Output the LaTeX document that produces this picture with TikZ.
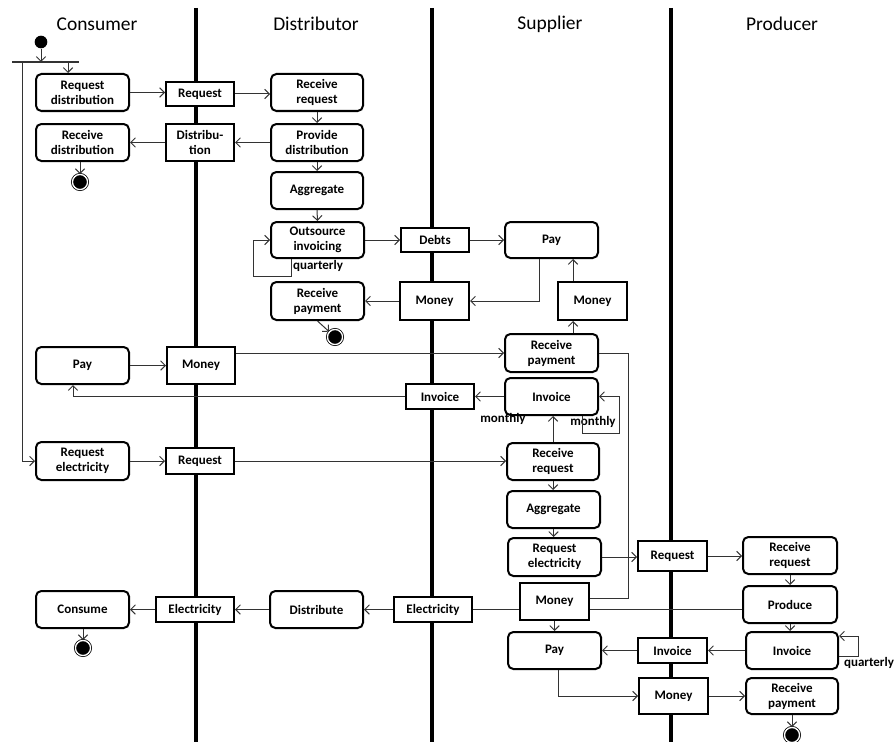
\documentclass[tikz,border=0pt]{standalone}
\usepackage{fontspec}
\setmainfont{Carlito}
\usetikzlibrary{arrows.meta,calc}

\tikzset{
  txt/.style={font=\bfseries\fontsize{9.75}{11.25}\selectfont},
  act/.style={txt, draw, line width=1.5pt, rounded corners=4pt, fill=white, align=center, inner sep=0pt},
  obj/.style={txt, draw, line width=1.5pt, fill=white, align=center, inner sep=0pt},
  conn/.style={line width=0.75pt, draw=black!80},
  arr/.style={conn, -{Straight Barb[length=3.5pt,width=7pt,line width=0.75pt]}},
  lane/.style={line width=3pt, draw=black},
  lbl/.style={txt, inner sep=0pt},
  head/.style={font=\fontsize{14.6}{17}\selectfont, inner sep=0pt},
  finalnode/.style={circle, fill=black, draw=black, line width=0.6pt, double=white, double distance=1pt, minimum size=11.3pt, inner sep=0pt},
  initnode/.style={circle, fill=black, minimum size=9.5pt, inner sep=0pt},
}
\newcommand\mkact[6]{\node[act,minimum width={(#4-#2)*0.75pt},minimum height={(#5-#3)*0.75pt}] (#1) at ({(#2+#4)/2},{(#3+#5)/2}) {#6};}
\newcommand\mkobj[6]{\node[obj,minimum width={(#4-#2)*0.75pt},minimum height={(#5-#3)*0.75pt}] (#1) at ({(#2+#4)/2},{(#3+#5)/2}) {#6};}

\begin{document}
\begin{tikzpicture}[x=0.75pt,y=-0.75pt]
\useasboundingbox (0,0) rectangle (896,742);

% swimlane dividers
\coordinate (l1t) at (196,8); \coordinate (l1b) at (196,742);
\coordinate (l2t) at (432,8); \coordinate (l2b) at (432,742);
\coordinate (l3t) at (671,8); \coordinate (l3b) at (671,742);
\draw[lane] (l1t) -- (l1b);
\draw[lane] (l2t) -- (l2b);
\draw[lane] (l3t) -- (l3b);

% headers
\node[head] (hC) at (97,24) {Consumer};
\node[head] (hD) at (316,24) {Distributor};
\node[head] (hS) at (550,24) {Supplier};
\node[head] (hP) at (782,24) {Producer};

% activities
\mkact{cRD}{36}{74}{129}{111}{Request\\distribution}
\mkact{cRecD}{36}{124}{129}{161}{Receive\\distribution}
\mkact{dRR}{271}{74}{363}{111}{Receive\\request}
\mkact{dPD}{271}{124}{363}{161}{Provide\\distribution}
\mkact{dAgg}{271}{172}{363}{209}{Aggregate}
\mkact{dOI}{271}{222}{364}{258}{Outsource\\invoicing}
\mkact{dRP}{271}{282}{364}{320}{Receive\\payment}
\mkact{sPay}{505}{222}{598}{258}{Pay}
\mkact{cPay}{36}{347}{129}{384}{Pay}
\mkact{sRP}{505}{334}{598}{372}{Receive\\payment}
\mkact{sInv}{505}{378}{598}{415}{Invoice}
\mkact{cRE}{36}{442}{129}{480}{Request\\electricity}
\mkact{sRR}{507}{443}{599}{480}{Receive\\request}
\mkact{sAgg}{507}{491}{600}{528}{Aggregate}
\mkact{sRE}{508}{538}{601}{576}{Request\\electricity}
\mkact{pRR}{743}{537}{837}{574}{Receive\\request}
\mkact{pProd}{743}{586}{837}{623}{Produce}
\mkact{pInv}{746}{632}{838}{669}{Invoice}
\mkact{pRP}{746}{678}{838}{714}{Receive\\payment}
\mkact{cCons}{36}{591}{129}{628}{Consume}
\mkact{dDist}{270}{591}{363}{628}{Distribute}
\mkact{sPay2}{508}{632}{601}{669}{Pay}

% objects
\mkobj{oReq1}{166}{82}{234}{106}{Request}
\mkobj{oDistr}{166}{124}{234}{161}{Distribu-\\tion}
\mkobj{oDebts}{401}{228}{469}{252}{Debts}
\mkobj{oMon1}{400}{282}{469}{320}{Money}
\mkobj{oMon2}{558}{282}{627}{320}{Money}
\mkobj{oMon3}{167}{347}{235}{384}{Money}
\mkobj{oInv1}{406}{384}{474}{409}{Invoice}
\mkobj{oReq2}{166}{448}{234}{474}{Request}
\mkobj{oReq3}{638}{541}{707}{571}{Request}
\mkobj{oMon4}{520}{583}{589}{620}{Money}
\mkobj{oEl1}{156}{597}{234}{622}{Electricity}
\mkobj{oEl2}{394}{597}{472}{622}{Electricity}
\mkobj{oInv2}{638}{638}{707}{663}{Invoice}
\mkobj{oMon5}{639}{678}{708}{714}{Money}

% initial, fork, finals
\node[initnode] (init) at (41,42) {};
\coordinate (barL) at (12,62);
\coordinate (barR) at (79,62);
\draw[line width=1pt, draw=black!80] (barL) -- (barR);
\node[finalnode] (f1) at (80,182) {};
\node[finalnode] (f2) at (335,337) {};
\node[finalnode] (f3) at (83,648) {};
\node[finalnode] (f4) at (792,735) {};

% labels
\node[lbl] (q1) at (318,266) {quarterly};
\node[lbl] (m1) at (503,419) {monthly};
\node[lbl] (m2) at (593,422) {monthly};
\node[lbl] (q2) at (869,663) {quarterly};

% connectors: start
\draw[arr] (init.south) -- (init.south |- barL);
\coordinate (forkA) at ($(cRD.north)+(-14.5,0)$);
\draw[arr] (forkA |- barL) -- (forkA);
\coordinate (forkB) at (22,62);
\draw[conn,-{Straight Barb[length=3.5pt,width=7pt,line width=0.75pt]}] (forkB) |- (cRE.west);

% distribution flow
\draw[arr] (cRD.east) -- (oReq1.west |- cRD.east);
\draw[arr] (oReq1.east) -- (dRR.west |- oReq1.east);
\draw[arr] (dRR.south) -- (dPD.north);
\draw[arr] (dPD.west) -- (oDistr.east |- dPD.west);
\draw[arr] (oDistr.west) -- (cRecD.east |- oDistr.west);
\draw[arr] (cRecD.south -| f1) -- (f1.north);
\draw[arr] (dPD.south) -- (dAgg.north);
\draw[arr] (dAgg.south) -- (dOI.north);
\draw[arr] ($(dOI.south)+(-26.5,0)$) |- ($(dOI.west)+(-17,36)$) |- (dOI.west);
\draw[arr] (dOI.east) -- (oDebts.west |- dOI.east);
\draw[arr] (oDebts.east) -- (sPay.west |- oDebts.east);
\draw[arr] ($(sPay.south)+(-12.5,0)$) |- (oMon1.east);
\draw[arr] (oMon1.west) -- (dRP.east |- oMon1.west);
\draw[arr] (dRP.south) -- (f2);

% consumer payment
\coordinate (xm) at ($(oMon2.south)+(-19.5,0)$);
\draw[arr] (sRP.north -| xm) -- (xm);
\draw[arr] (oMon2.north -| xm) -- (sPay.south -| xm);
\draw[arr] (cPay.east) -- (oMon3.west |- cPay.east);
\draw[arr] (sRP.west -| oMon3.east) -- (sRP.west);
\draw[arr] (sInv.west) -- (oInv1.east |- sInv.west);
\draw[arr] (oInv1.west) -| ($(cPay.south)+(-9.5,0)$);
\draw[arr] ($(sInv.south)+(30.5,0)$) |- ($(sInv.east)+(20,36.5)$) |- (sInv.east);
\draw[arr] (sRR.north) -- (sInv.south -| sRR.north);

% electricity request
\draw[arr] (cRE.east) -- (oReq2.west |- cRE.east);
\draw[arr] (oReq2.east) -- (sRR.west |- oReq2.east);
\draw[arr] (sRR.south) -- (sAgg.north -| sRR.south);
\draw[arr] (sAgg.south) -- (sRE.north -| sAgg.south);
\draw[arr] (sRE.east) -- (oReq3.west |- sRE.east);
\draw[arr] (oReq3.east) -- (pRR.west |- oReq3.east);
\draw[arr] (pRR.south) -- (pProd.north);
\draw[arr] (pProd.south) -- (pInv.north -| pProd.south);
\draw[arr] ($(pInv.east)+(0,5.5)$) -- ++(19,0) |- ($(pInv.east)+(0,-14.5)$);

% supplier money / produce / electricity
\draw[conn] (sRP.east) -- ++(29,0) |- ($(oMon4.east)+(0,-3.5)$);
\draw[conn] (oEl2.east) -- (oEl2.east -| oMon4.west);
\draw[conn] (oEl2.east -| oMon4.east) -- (oEl2.east -| pProd.west);
\draw[arr] (oMon4.south) -- (oMon4.south |- sPay2.north);
\draw[arr] (pInv.west) -- (oInv2.east |- pInv.west);
\draw[arr] (oInv2.west) -- (sPay2.east |- oInv2.west);
\draw[arr] ($(sPay2.south)+(3.5,0)$) |- (oMon5.west);
\draw[arr] (oMon5.east) -- (pRP.west |- oMon5.east);
\draw[arr] (pRP.south) -- (f4.north);

% electricity delivery
\draw[arr] (oEl2.west) -- (dDist.east |- oEl2.west);
\draw[arr] (dDist.west) -- (oEl1.east |- dDist.west);
\draw[arr] (oEl1.west) -- (cCons.east |- oEl1.west);
\draw[arr] (cCons.south -| f3) -- (f3.north);
\end{tikzpicture}
\end{document}
